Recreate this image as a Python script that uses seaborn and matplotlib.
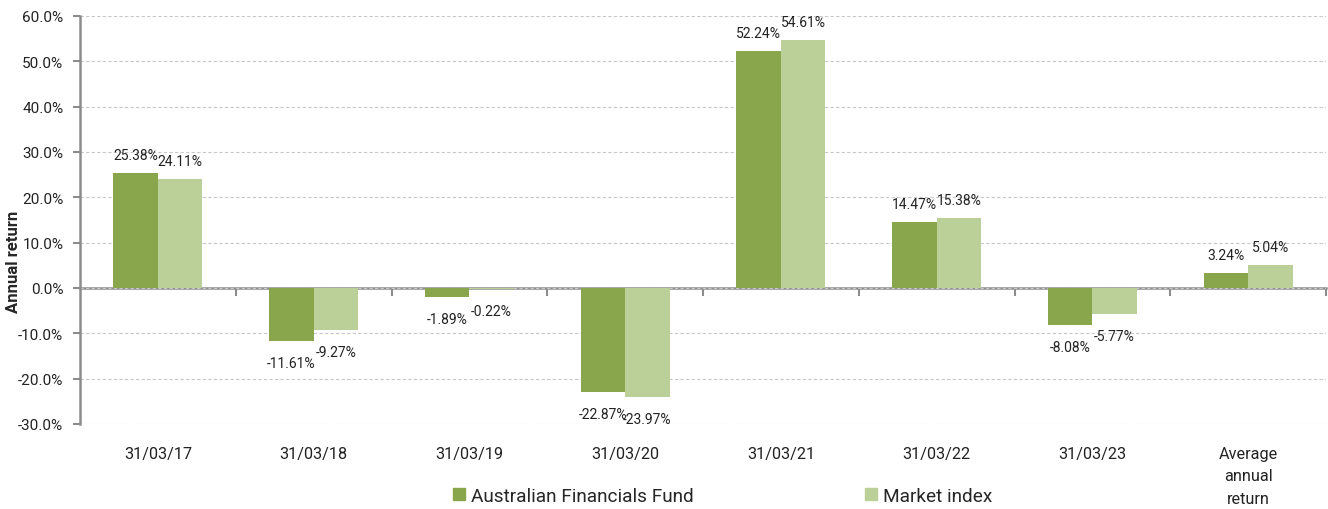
import pandas as pd
import matplotlib
matplotlib.use('Agg')
from matplotlib import pyplot as plt
from matplotlib.ticker import FuncFormatter, FixedLocator
import seaborn as sns

categories = ['31/03/17', '31/03/18', '31/03/19', '31/03/20', '31/03/21',
              '31/03/22', '31/03/23', 'Average\nannual\nreturn']
fund = [25.38, -11.61, -1.89, -22.87, 52.24, 14.47, -8.08, 3.24]
market = [24.11, -9.27, -0.22, -23.97, 54.61, 15.38, -5.77, 5.04]
series = ['Australian Financials Fund', 'Market index']
colors = ['#8AA64D', '#BAD098']

sns.set_style('white')
plt.rcParams['font.family'] = ['Roboto', 'DejaVu Sans']

df = pd.DataFrame({
    'period': categories * 2,
    'value': fund + market,
    'series': [series[0]] * len(fund) + [series[1]] * len(market),
})

fig = plt.figure(figsize=(13.28, 5.10), dpi=100)
ax = fig.add_axes([80 / 1328, 85 / 510, 1246 / 1328, 408 / 510])

sns.barplot(data=df, x='period', y='value', hue='series', palette=colors,
            width=0.57, saturation=1, ax=ax, legend=False, edgecolor='none')

ymin, ymax = -30, 60
ax.set_ylim(ymin, ymax)
ax.set_xlim(-0.5, len(categories) - 0.5)
ax.set_yticks(range(-30, 61, 10))
ax.yaxis.set_major_formatter(FuncFormatter(lambda v, p: f'{v:.1f}%'))
ax.tick_params(axis='y', labelsize=11, length=5, width=1.5, color='#8c8c8c',
               pad=7, left=True, labelcolor='#222222')
ax.tick_params(axis='x', labelsize=11.7, length=0, pad=16, labelcolor='#222222')
ax.set_xlabel('')
ax.set_ylabel('Annual return', fontsize=12, fontweight='bold')
ax.yaxis.set_label_coords(-0.0475, 0.4)
for lab in ax.get_xticklabels():
    lab.set_linespacing(1.6)

ax.grid(axis='y', linestyle=(0, (3, 2)), color='#c8c8c8', linewidth=0.8)
ax.set_axisbelow(True)
for s in ['top', 'right', 'bottom']:
    ax.spines[s].set_visible(False)
ax.spines['left'].set_color('#8c8c8c')
ax.spines['left'].set_linewidth(1.8)

# zero axis with category boundary ticks
sec = ax.secondary_xaxis((0 - ymin) / (ymax - ymin))
sec.spines['bottom'].set_color('#8c8c8c')
sec.spines['bottom'].set_linewidth(1.8)
sec.xaxis.set_major_locator(FixedLocator([i + 0.5 for i in range(len(categories))]))
sec.tick_params(axis='x', length=6, width=1.5, color='#8c8c8c', labelbottom=False)

# data labels
for container, vals in zip(ax.containers, [fund, market]):
    for bar, v in zip(container, vals):
        xc = bar.get_x() + bar.get_width() / 2
        off = 13 if v >= 0 else -16
        ax.annotate(f'{v:.2f}%', (xc, v), xytext=(0, off),
                    textcoords='offset points', ha='center', va='center',
                    fontsize=10, color='#222222')

handles = [plt.Rectangle((0, 0), 1, 1, color=c) for c in colors]
fig.legend(handles, series, loc='center', bbox_to_anchor=(0.544, 0.026),
           ncol=2, frameon=False, fontsize=13.7, handlelength=0.65,
           handleheight=0.65, handletextpad=0.3, columnspacing=9.0)

fig.savefig('out.png', dpi=100)
